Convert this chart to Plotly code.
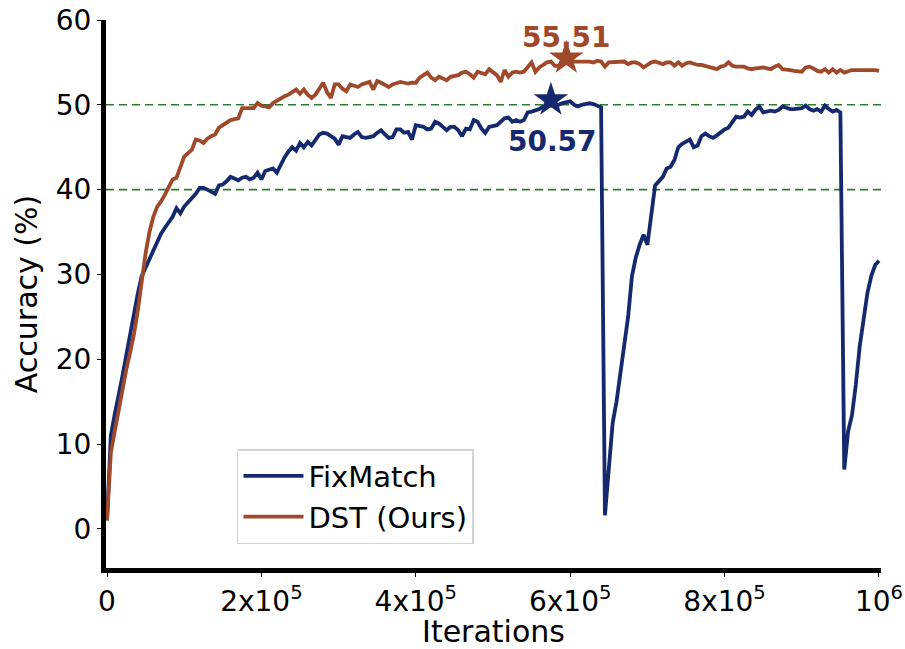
import plotly.graph_objects as go

# ---- data ----
iterations = [i * 5000 for i in range(201)]

fixmatch = [
    1.0, 11.0, 13.5, 15.5, 18.0, 20.5, 23.0, 25.5, 27.8, 29.8,
    30.8, 32.0, 33.0, 34.0, 34.8, 35.5, 36.2, 36.8, 37.8, 37.2,
    38.0, 38.5, 39.0, 39.5, 40.2, 40.2, 40.0, 39.8, 39.5, 40.5,
    40.6, 41.0, 41.5, 41.3, 41.1, 41.4, 41.5, 41.2, 41.4, 42.0,
    41.2, 42.2, 42.3, 42.5, 42.0, 43.0, 43.8, 44.5, 45.0, 44.6,
    45.5, 45.0, 45.6, 45.2, 45.8, 46.5, 46.7, 46.6, 46.3, 46.0,
    45.3, 46.3, 46.2, 46.1, 46.5, 46.8, 46.2, 46.1, 46.2, 46.3,
    46.7, 47.0, 46.5, 46.1, 46.2, 47.1, 47.1, 46.7, 46.8, 45.9,
    47.6, 47.5, 47.4, 47.1, 47.2, 48.0, 47.8, 47.4, 47.0, 47.4,
    47.4, 47.0, 46.3, 47.2, 47.1, 48.2, 48.0, 47.2, 46.7, 47.4,
    47.5, 47.6, 48.0, 48.4, 48.5, 48.0, 48.2, 48.0, 48.2, 49.1,
    49.2, 49.3, 49.5, 49.8, 49.8, 49.9, 50.0, 50.0, 50.2, 50.3,
    50.4, 50.0, 49.8, 50.0, 50.1, 50.2, 50.1, 49.9, 49.7, 1.6,
    7.5, 12.5, 15.0, 18.5, 21.5, 25.0, 29.8, 32.0, 33.5, 34.7,
    33.5, 37.0, 40.5, 41.0, 41.5, 42.5, 42.7, 43.5, 45.0, 45.4,
    45.7, 45.9, 45.0, 45.2, 46.3, 46.6, 46.3, 46.1, 46.4, 46.8,
    47.1, 47.3, 47.9, 48.6, 48.5, 48.6, 49.2, 48.8, 49.4, 49.8,
    49.1, 49.2, 49.3, 49.2, 49.4, 49.8, 49.6, 49.5, 49.5, 49.6,
    49.6, 49.9, 49.5, 49.3, 49.5, 49.2, 49.9, 49.5, 49.2, 49.4,
    49.1, 7.0, 11.5, 13.4, 17.0, 21.5, 25.0, 27.8, 29.8, 31.1,
    31.6,
]

dst = [
    1.0, 9.0, 11.5, 14.0, 16.5, 18.8, 20.8, 23.0, 25.8, 29.4,
    32.5, 35.0, 36.8, 38.0, 38.6, 39.4, 40.2, 41.2, 41.4, 42.6,
    43.9, 44.3, 44.7, 45.9, 45.8, 45.5, 46.0, 46.3, 46.5, 47.3,
    47.6, 47.9, 48.2, 48.3, 48.4, 49.6, 49.6, 49.5, 49.6, 50.2,
    49.9, 49.8, 49.7, 50.2, 50.5, 50.8, 51.0, 51.2, 51.5, 51.8,
    51.3, 51.8, 51.2, 50.8, 51.2, 52.0, 52.6, 51.5, 50.8, 52.4,
    52.4, 51.9, 51.6, 52.4, 52.3, 52.1, 52.4, 52.5, 52.7, 51.8,
    52.8, 52.6, 52.4, 52.1, 52.4, 52.6, 52.7, 52.6, 52.5, 52.6,
    52.6, 53.2, 53.5, 53.8, 53.2, 52.9, 53.3, 53.1, 52.9, 53.3,
    53.4, 53.5, 53.8, 53.9, 53.6, 53.2, 53.9, 53.8, 53.6, 54.2,
    53.9, 53.5, 52.7, 54.1, 53.3, 53.8, 53.9, 53.8, 53.9, 54.4,
    55.0, 53.9, 54.4, 54.7, 55.0, 55.1, 54.6, 54.6, 55.2, 55.3,
    55.1, 55.1, 55.1, 55.1, 55.2, 55.1, 55.0, 55.2, 55.1, 54.5,
    55.0, 55.0, 55.0, 55.1, 55.1, 54.8, 55.0, 55.0, 54.8, 54.4,
    54.7, 55.0, 55.1, 54.9, 54.8, 55.0, 55.0, 54.6, 55.0, 54.6,
    54.9, 55.0, 54.8, 54.7, 54.7, 54.6, 54.5, 54.4, 54.2, 54.5,
    54.6, 55.0, 54.6, 54.5, 54.5, 54.5, 54.3, 54.2, 54.3, 54.4,
    54.4, 54.3, 54.2, 54.5, 54.7, 54.2, 54.2, 54.1, 54.0, 53.9,
    53.9, 54.4, 54.5, 54.3, 54.0, 53.9, 54.2, 53.8, 54.2, 53.8,
    54.1, 53.8, 54.0, 54.1, 54.1, 54.1, 54.2, 54.1, 54.1, 54.1,
    54.0,
]

best_fixmatch = (575000, 50.57)
best_dst = (595000, 55.51)
ref_levels = [40, 50]

x_tickvals = [0, 200000, 400000, 600000, 800000, 1000000]
x_ticktext = ["0", "2x10<sup>5</sup>", "4x10<sup>5</sup>", "6x10<sup>5</sup>",
              "8x10<sup>5</sup>", "10<sup>6</sup>"]
y_tickvals = [0, 10, 20, 30, 40, 50, 60]

BLUE = "#15296f"
ORANGE = "#a0492a"
GREEN = "#2f7a32"
FONT = "DejaVu Sans"

fig = go.Figure()

fig.add_trace(go.Scatter(x=iterations, y=fixmatch, mode="lines", name="FixMatch",
                         line=dict(color=BLUE, width=3.8)))
fig.add_trace(go.Scatter(x=iterations, y=dst, mode="lines", name="DST (Ours)",
                         line=dict(color=ORANGE, width=3.8)))

fig.add_trace(go.Scatter(x=[best_fixmatch[0]], y=[best_fixmatch[1]], mode="markers",
                         marker=dict(symbol="star", size=26, color=BLUE),
                         showlegend=False, cliponaxis=False))
fig.add_trace(go.Scatter(x=[best_dst[0]], y=[best_dst[1]], mode="markers",
                         marker=dict(symbol="star", size=26, color=ORANGE),
                         showlegend=False, cliponaxis=False))

for lv in ref_levels:
    fig.add_hline(y=lv, line=dict(color=GREEN, width=1.6, dash="8px,5px"), layer="below")

fig.add_annotation(x=best_dst[0], y=best_dst[1], text="<b>%.2f</b>" % best_dst[1],
                   showarrow=False, yshift=21, xshift=0,
                   font=dict(family=FONT, size=28, color=ORANGE))
fig.add_annotation(x=best_fixmatch[0], y=best_fixmatch[1], text="<b>%.2f</b>" % best_fixmatch[1],
                   showarrow=False, yshift=-42, xshift=2,
                   font=dict(family=FONT, size=28, color=BLUE))

fig.update_layout(
    width=905, height=649,
    margin=dict(l=106, r=24, t=20, b=81),
    paper_bgcolor="white", plot_bgcolor="white",
    font=dict(family=FONT, size=28, color="black"),
    legend=dict(x=0.169, y=0.217, xanchor="left", yanchor="top",
                bgcolor="white", bordercolor="#d4d4d4", borderwidth=1.5,
                font=dict(family=FONT, size=29, color="black"),
                itemwidth=60, tracegroupgap=0),
)

fig.update_xaxes(range=[-1300, 1002600], showgrid=False, zeroline=False, automargin=False,
                 showline=True, linewidth=5, linecolor="black",
                 ticks="outside", ticklen=4, tickwidth=1.2, tickcolor="black",
                 tickvals=x_tickvals, ticktext=x_ticktext,
                 tickfont=dict(family=FONT, size=28),
                 title=dict(text="Iterations", font=dict(family=FONT, size=30), standoff=9))
fig.update_yaxes(range=[-4.62, 60], showgrid=False, zeroline=False, automargin=False,
                 showline=True, linewidth=5, linecolor="black",
                 ticks="outside", ticklen=4, tickwidth=1.2, tickcolor="black",
                 tickvals=y_tickvals,
                 tickfont=dict(family=FONT, size=28),
                 title=dict(text="Accuracy (%)", font=dict(family=FONT, size=30), standoff=11))

fig.write_html("out.html")
